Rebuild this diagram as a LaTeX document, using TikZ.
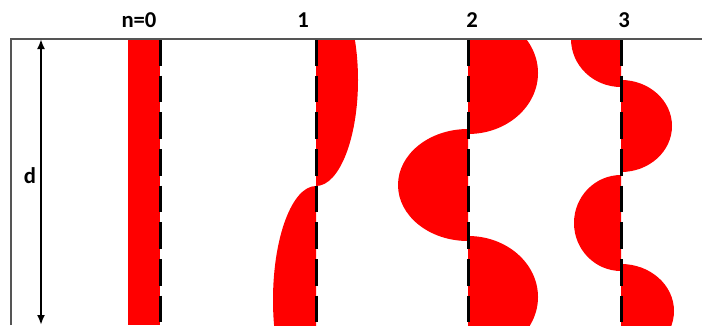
\documentclass[tikz,border=0pt]{standalone}
\usepackage{fontspec}
\setmainfont{Carlito}
\usetikzlibrary{arrows.meta}
\definecolor{lobered}{RGB}{255,0,0}
\definecolor{framegray}{RGB}{85,85,85}
\tikzset{
  modeline/.style={line width=2.25pt, dash pattern=on 20pt off 7.5pt},
  lobe/.style={fill=lobered},
  modelabel/.style={font=\fontsize{17}{20}\selectfont\bfseries, inner sep=0pt},
}
\begin{document}
\begin{tikzpicture}[>={Latex[length=7.5pt,width=6pt]}, x=0.75pt, y=-0.75pt]
  \useasboundingbox (0,0) rectangle (702,325);

  % n=0: uniform strip
  \fill[lobe] (128,39) rectangle (160,325);

  % n=1,2,3: half-ellipse lobes on either side of the line
  \foreach \xc/\yc/\rx/\ry in {316/80/42/106, 316/300/-43/114,
      468/73/70/61, 468/185/-70/56, 468/297/70/61,
      621/39/-50/48, 621/126/51/46, 621/223/-47/48, 621/311/53/47}{
    \begin{scope}
      \clip (\xc,39) rectangle ({\xc+\rx},325);
      \fill[lobe] (\xc,\yc) ellipse [x radius={abs(\rx)}, y radius=\ry];
    \end{scope}
  }

  % dashed lines
  \foreach \xl in {160,316,468,621}
    \draw[modeline] (\xl,39) -- (\xl,325);

  % frame
  \draw[framegray, line width=1.1pt] (11,325) -- (11,39) -- (702,39);

  % labels
  \node[modelabel] (lab0) at (139,20) {n=0};
  \node[modelabel] (lab1) at (303,20) {1};
  \node[modelabel] (lab2) at (472,20) {2};
  \node[modelabel] (lab3) at (624,20) {3};

  % thickness d
  \coordinate (dtop) at (41,39);
  \coordinate (dbot) at (41,325);
  \draw[<->, line width=1.5pt] (dtop) -- (dbot);
  \node[modelabel] (dlab) at (30,176) {d};
\end{tikzpicture}
\end{document}
